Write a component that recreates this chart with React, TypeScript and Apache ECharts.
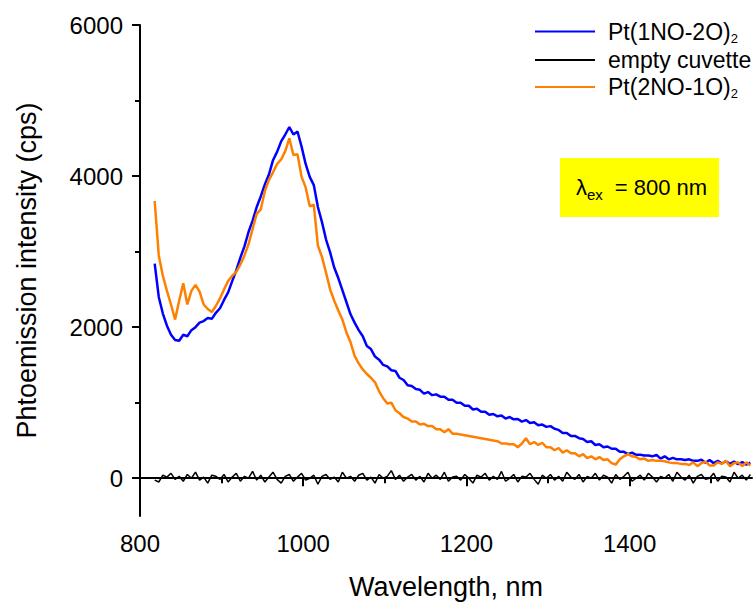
import React, { useEffect, useRef } from "react";
import * as echarts from "echarts";

const FONT = "'Liberation Sans', Arial, sans-serif";

// sampling grid of the spectra (nm)
const WL_START = 818;
const WL_STEP = 5;

const SERIES_NAMES = ["Pt(1NO-2O)2", "empty cuvette", "Pt(2NO-1O)2"];

const BLUE = [
  2840, 2400, 2180, 2020, 1900, 1830, 1820, 1900, 1880, 1960,
  2000, 2060, 2080, 2120, 2110, 2190, 2250, 2360, 2460, 2610,
  2750, 2920, 3070, 3260, 3410, 3590, 3730, 3890, 4020, 4210,
  4320, 4460, 4550, 4650, 4550, 4590, 4390, 4160, 3990, 3880,
  3590, 3390, 3160, 2990, 2790, 2650, 2490, 2330, 2170, 2060,
  1960, 1880, 1750, 1710, 1610, 1570, 1500, 1480, 1430, 1420,
  1330, 1300, 1230, 1220, 1180, 1170, 1120, 1140, 1100, 1110,
  1080, 1080, 1040, 1040, 1000, 1000, 960, 960, 910, 920,
  880, 880, 840, 850, 820, 830, 790, 810, 780, 785,
  750, 770, 730, 740, 700, 710, 680, 690, 655, 640,
  600, 600, 560, 560, 530, 520, 480, 490, 440, 450,
  410, 420, 390, 390, 350, 350, 320, 340, 310, 310,
  300, 300, 290, 310, 260, 290, 250, 270, 250, 250,
  240, 250, 230, 230, 245, 205, 240, 200, 230, 195,
  225, 190, 220, 185, 215, 180, 205,
];

const BLACK = [
  -25, -50, 40, 15, 65, -15, 25, -40, 50, 0,
  80, -25, 15, -65, 40, 25, -15, 50, -50, 15,
  65, -40, 25, 0, 90, -25, 40, -50, 15, 80,
  -15, -65, 25, 50, -40, 15, 65, -25, 0, 40,
  -80, 25, 50, -15, 15, -50, 80, 0, 25, -40,
  40, 65, -25, 15, -65, 50, 0, 25, 100, -15,
  40, -40, 15, 50, -25, 25, -50, 65, 0, 40,
  -15, 80, -40, 15, 25, -25, 50, 0, -65, 40,
  15, 65, -25, 25, -15, 90, -40, 0, 50, -50,
  25, 15, 65, -15, -80, 40, 0, 50, -25, 25,
  -40, 80, 15, -15, 50, -50, 25, 0, 65, -25,
  40, 15, -65, 50, -15, 25, 80, -40, 0, 40,
  -25, 65, 15, -50, 25, 0, 50, -40, 80, 15,
  -25, 40, -65, 25, 50, -15, 0, 65, -40, 25,
  15, -50, 80, 0, 40, -25, 50,
];

const ORANGE = [
  3670, 2950, 2680, 2480, 2300, 2100, 2350, 2580, 2300, 2480,
  2560, 2470, 2300, 2240, 2200, 2280, 2380, 2500, 2610, 2680,
  2730, 2830, 2950, 3100, 3300, 3500, 3560, 3800, 3950, 4050,
  4160, 4220, 4330, 4500, 4280, 4290, 3990, 3850, 3600, 3620,
  3080, 2930, 2720, 2500, 2350, 2220, 2100, 1930, 1800, 1620,
  1520, 1440, 1380, 1330, 1270, 1150, 1060, 990, 1000, 900,
  860, 810, 790, 750, 750, 710, 720, 690, 690, 650,
  650, 610, 650, 590, 590, 580, 570, 560, 550, 540,
  530, 520, 510, 500, 490, 460, 460, 450, 450, 410,
  460, 530, 450, 480, 440, 470, 410, 410, 370, 400,
  340, 370, 330, 330, 290, 320, 265, 290, 250, 280,
  240, 250, 200, 180, 250, 290, 320, 290, 280, 250,
  260, 230, 240, 230, 230, 225, 210, 200, 200, 190,
  190, 175, 210, 160, 200, 220, 170, 170, 210, 190,
  230, 160, 200, 210, 160, 210, 170,
];

const X_MAJOR = [800, 1000, 1200, 1400];
const X_MINOR = [900, 1100, 1300, 1500];
const Y_MAJOR = [0, 2000, 4000, 6000];
const Y_MINOR = [1000, 3000, 5000];

const toPairs = (vals: number[]) =>
  vals.map((v, i) => [WL_START + i * WL_STEP, v]);

export default function App() {
  const ref = useRef<HTMLDivElement>(null);

  useEffect(() => {
    if (!ref.current) return;
    const chart = echarts.init(ref.current, undefined, { renderer: "svg" });

    const axisLineStyle = { color: "#000", width: 2 };
    const plain = (v: number) => String(v);

    const option: any = {
      animation: false,
      backgroundColor: "#fff",
      textStyle: { fontFamily: FONT, color: "#000" },
      grid: { left: 140, right: 3, top: 25, bottom: 87 },
      xAxis: [
        {
          type: "value",
          min: 800,
          max: 1550,
          interval: 200,
          axisLine: { show: true, lineStyle: axisLineStyle },
          axisTick: {
            show: true,
            inside: false,
            length: 8,
            lineStyle: axisLineStyle,
            customValues: X_MAJOR,
          },
          axisLabel: {
            customValues: X_MAJOR,
            formatter: plain,
            fontSize: 24,
            color: "#000",
            margin: 15,
            fontFamily: FONT,
          },
          splitLine: { show: false },
          name: "Wavelength, nm",
          nameLocation: "middle",
          nameGap: 57,
          nameTextStyle: { fontSize: 27, color: "#000", fontFamily: FONT },
        },
        {
          type: "value",
          min: 800,
          max: 1550,
          position: "bottom",
          offset: 0,
          axisLine: { show: false },
          axisTick: {
            show: true,
            inside: false,
            length: 5,
            lineStyle: axisLineStyle,
            customValues: X_MINOR,
          },
          axisLabel: { show: false },
          splitLine: { show: false },
        },
      ],
      yAxis: [
        {
          type: "value",
          min: -500,
          max: 6000,
          axisLine: { show: true, lineStyle: axisLineStyle },
          axisTick: {
            show: true,
            inside: false,
            length: 8,
            lineStyle: axisLineStyle,
            customValues: Y_MAJOR,
          },
          axisLabel: {
            customValues: Y_MAJOR,
            formatter: plain,
            fontSize: 24,
            color: "#000",
            margin: 17,
            fontFamily: FONT,
          },
          splitLine: { show: false },
          name: "Phtoemission intensity (cps)",
          nameLocation: "middle",
          nameGap: 100,
          nameTextStyle: { fontSize: 27, color: "#000", fontFamily: FONT },
        },
        {
          type: "value",
          min: -500,
          max: 6000,
          position: "left",
          offset: 0,
          axisLine: { show: false },
          axisTick: {
            show: true,
            inside: false,
            length: 5,
            lineStyle: axisLineStyle,
            customValues: Y_MINOR,
          },
          axisLabel: { show: false },
          splitLine: { show: false },
        },
      ],
      legend: {
        orient: "vertical",
        left: 535,
        top: 20,
        padding: 0,
        itemGap: 4,
        itemWidth: 60,
        itemHeight: 2,
        icon: "rect",
        selectedMode: false,
        data: SERIES_NAMES,
        formatter: (name: string) => {
          if (name.endsWith(")2")) {
            return `{b|${name.slice(0, -1)}}{s|2}`;
          }
          return `{b|${name}}`;
        },
        textStyle: {
          color: "#000",
          fontFamily: FONT,
          fontSize: 23,
          rich: {
            b: {
              fontSize: 23,
              lineHeight: 26,
              fontFamily: FONT,
              color: "#000",
              padding: [0, 0, 0, 8],
            },
            s: {
              fontSize: 13,
              lineHeight: 2,
              verticalAlign: "bottom",
              fontFamily: FONT,
              color: "#000",
            },
          },
        },
      },
      graphic: [
        {
          type: "rect",
          shape: { x: 560, y: 158, width: 159, height: 59 },
          style: { fill: "#ffff00" },
          z: 10,
        },
        {
          type: "text",
          x: 576,
          y: 187,
          z: 11,
          style: {
            text: "{l|λ}{s|ex}{t|= 800 nm}",
            align: "left",
            verticalAlign: "middle",
            fill: "#000",
            font: `22px ${FONT}`,
            rich: {
              l: { fontSize: 22, lineHeight: 30, fontFamily: FONT, fill: "#000" },
              s: {
                fontSize: 15,
                lineHeight: 6,
                verticalAlign: "bottom",
                fontFamily: FONT,
                fill: "#000",
              },
              t: {
                fontSize: 22,
                lineHeight: 30,
                fontFamily: FONT,
                fill: "#000",
                padding: [0, 0, 0, 12],
              },
            },
          },
        },
      ],
      series: [
        {
          name: SERIES_NAMES[0],
          type: "line",
          xAxisIndex: 0,
          yAxisIndex: 0,
          data: toPairs(BLUE),
          symbol: "none",
          showSymbol: false,
          color: "#0000ff",
          lineStyle: { color: "#0000ff", width: 2.5 },
        },
        {
          name: SERIES_NAMES[1],
          type: "line",
          xAxisIndex: 0,
          yAxisIndex: 0,
          data: toPairs(BLACK),
          symbol: "none",
          showSymbol: false,
          color: "#000000",
          lineStyle: { color: "#000000", width: 1.5 },
        },
        {
          name: SERIES_NAMES[2],
          type: "line",
          xAxisIndex: 0,
          yAxisIndex: 0,
          data: toPairs(ORANGE),
          symbol: "none",
          showSymbol: false,
          color: "#ff8000",
          lineStyle: { color: "#ff8000", width: 2.5 },
        },
      ],
    };

    chart.setOption(option);
    return () => chart.dispose();
  }, []);

  return (
    <div
      ref={ref}
      style={{ position: "fixed", left: 0, top: 0, width: 755, height: 605 }}
    />
  );
}
